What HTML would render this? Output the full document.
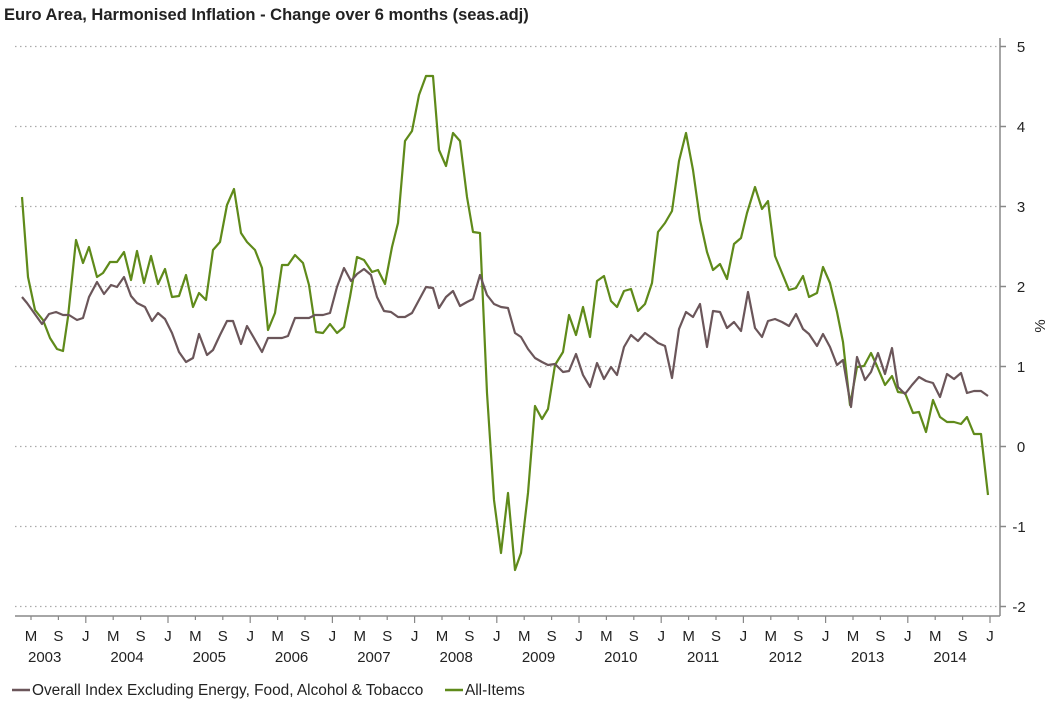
<!DOCTYPE html>
<html><head><meta charset="utf-8"><style>
body{margin:0;background:#fff;}
svg text{font-family:"Liberation Sans",sans-serif;fill:#222;}
</style></head><body>
<svg width="1047" height="716" viewBox="0 0 1047 716" xmlns="http://www.w3.org/2000/svg">
<text x="4" y="20" font-size="16.5" font-weight="bold" fill="#111">Euro Area, Harmonised Inflation - Change over 6 months (seas.adj)</text>
<g stroke="#aaa" stroke-width="1.2" stroke-dasharray="1.5,3.5">
<line x1="15" y1="46.5" x2="1000" y2="46.5"/>
<line x1="15" y1="126.5" x2="1000" y2="126.5"/>
<line x1="15" y1="206.5" x2="1000" y2="206.5"/>
<line x1="15" y1="286.5" x2="1000" y2="286.5"/>
<line x1="15" y1="366.5" x2="1000" y2="366.5"/>
<line x1="15" y1="446.5" x2="1000" y2="446.5"/>
<line x1="15" y1="526.5" x2="1000" y2="526.5"/>
<line x1="15" y1="606.5" x2="1000" y2="606.5"/>
</g>
<g stroke="#888" stroke-width="1.5">
<line x1="1000" y1="38" x2="1000" y2="616"/>
<line x1="15" y1="616" x2="1000" y2="616"/>
<line x1="1000" y1="46.5" x2="1006" y2="46.5"/>
<line x1="1000" y1="126.5" x2="1006" y2="126.5"/>
<line x1="1000" y1="206.5" x2="1006" y2="206.5"/>
<line x1="1000" y1="286.5" x2="1006" y2="286.5"/>
<line x1="1000" y1="366.5" x2="1006" y2="366.5"/>
<line x1="1000" y1="446.5" x2="1006" y2="446.5"/>
<line x1="1000" y1="526.5" x2="1006" y2="526.5"/>
<line x1="1000" y1="606.5" x2="1006" y2="606.5"/>
</g>
<path stroke="#888" stroke-width="1.2" fill="none" d="M31,616v4M58.4,616v4M85.8,616v7M113.2,616v4M140.6,616v4M168,616v7M195.4,616v4M222.8,616v4M250.2,616v7M277.6,616v4M305,616v4M332.4,616v7M359.8,616v4M387.2,616v4M414.6,616v7M442,616v4M469.4,616v4M496.8,616v7M524.2,616v4M551.6,616v4M579,616v7M606.4,616v4M633.8,616v4M661.2,616v7M688.6,616v4M716,616v4M743.4,616v7M770.8,616v4M798.2,616v4M825.6,616v7M853,616v4M880.4,616v4M907.8,616v7M935.2,616v4M962.6,616v4M990,616v7"/>
<g font-size="15" text-anchor="middle">
<text x="1021" y="52">5</text><text x="1021" y="132">4</text><text x="1021" y="212">3</text><text x="1021" y="292">2</text><text x="1021" y="372">1</text><text x="1021" y="452">0</text><text x="1019" y="532">-1</text><text x="1019" y="612">-2</text>
<text transform="translate(1045,326) rotate(-90)">%</text>
<text x="31" y="641">M</text><text x="58.4" y="641">S</text><text x="85.8" y="641">J</text>
<text x="113.2" y="641">M</text><text x="140.6" y="641">S</text><text x="168" y="641">J</text>
<text x="195.4" y="641">M</text><text x="222.8" y="641">S</text><text x="250.2" y="641">J</text>
<text x="277.6" y="641">M</text><text x="305" y="641">S</text><text x="332.4" y="641">J</text>
<text x="359.8" y="641">M</text><text x="387.2" y="641">S</text><text x="414.6" y="641">J</text>
<text x="442" y="641">M</text><text x="469.4" y="641">S</text><text x="496.8" y="641">J</text>
<text x="524.2" y="641">M</text><text x="551.6" y="641">S</text><text x="579" y="641">J</text>
<text x="606.4" y="641">M</text><text x="633.8" y="641">S</text><text x="661.2" y="641">J</text>
<text x="688.6" y="641">M</text><text x="716" y="641">S</text><text x="743.4" y="641">J</text>
<text x="770.8" y="641">M</text><text x="798.2" y="641">S</text><text x="825.6" y="641">J</text>
<text x="853" y="641">M</text><text x="880.4" y="641">S</text><text x="907.8" y="641">J</text>
<text x="935.2" y="641">M</text><text x="962.6" y="641">S</text><text x="990" y="641">J</text>
<text x="44.7" y="662">2003</text><text x="127" y="662">2004</text><text x="209.3" y="662">2005</text><text x="291.6" y="662">2006</text><text x="373.9" y="662">2007</text><text x="456.2" y="662">2008</text><text x="538.5" y="662">2009</text><text x="620.8" y="662">2010</text><text x="703.1" y="662">2011</text><text x="785.4" y="662">2012</text><text x="867.7" y="662">2013</text><text x="950" y="662">2014</text>
</g>
<polyline fill="none" stroke="#5f8a1a" stroke-width="2.2" stroke-linejoin="round" points="22,197 28,277 35,310 43,320 50,338 57,349 63,351 68,317 76,240 83,263 89,247 97,277 103,273 110,262 117,262 124,252 131,280 137,251 144,283 151,256 158,284 165,269 172,297 179,296 186,275 193,307 199,293 206,300 213,250 220,242 227,205 234,189 241,233 247,242 255,250 262,268 268,330 275,313 282,265 288,265 295,255 303,263 309,285 316,332 323,333 330,324 337,333 344,327 350,297 357,257 364,260 372,272 378,270 385,284 392,247 398,223 405,141 412,131 419,95 426,76 433,76 439,150 446,166 453,133 460,141 467,197 473,232 480,233 487,393 494,500 501,553 508,493 515,570 521,553 528,493 535,406 542,419 548,409 555,365 563,352 569,315 576,335 583,307 590,337 597,281 604,276 611,301 617,307 624,291 631,289 638,311 645,304 652,283 658,232 665,223 672,211 679,161 686,133 693,170 700,220 707,252 713,270 720,264 727,279 734,244 741,238 747,213 755,187 762,209 768,201 775,256 782,273 789,290 796,288 803,276 809,297 817,293 823,267 830,283 837,312 843,342 850,405 857,367 864,366 871,353 877,366 885,385 892,376 898,392 905,393 913,413 919,412 926,432 933,400 940,417 947,422 954,422 961,424 967,417 974,434 981,434 988,495"/>
<polyline fill="none" stroke="#6b565a" stroke-width="2.2" stroke-linejoin="round" points="22,297 27,303 42,324 49,314 56,312 63,315 69,315 77,320 83,318 89,297 97,282 104,294 111,285 117,287 124,277 131,296 137,303 145,307 152,321 158,313 165,319 172,333 179,352 186,362 193,358 199,334 207,355 213,350 220,335 227,321 233,321 241,344 247,326 254,338 262,352 268,338 275,338 282,338 288,336 295,318 302,318 309,318 315,315 323,315 330,313 337,287 344,268 351,281 357,274 364,269 371,275 377,297 384,311 391,312 398,317 405,317 412,313 419,300 426,287 433,288 439,308 446,297 453,291 460,306 467,302 473,299 480,275 487,295 494,304 501,307 508,308 515,333 521,337 528,349 535,358 542,362 548,365 555,364 563,372 569,371 576,354 583,375 590,387 597,363 604,379 611,367 617,375 624,347 631,335 638,341 645,333 652,338 658,343 665,346 672,378 679,329 686,312 693,317 700,304 707,347 713,311 720,312 727,328 734,322 741,331 748,292 755,328 762,337 768,321 775,319 782,322 789,326 796,314 803,329 809,334 817,346 823,334 830,347 837,365 843,360 851,407 857,357 865,380 871,372 878,353 885,374 892,348 898,387 905,394 912,385 919,377 926,381 933,383 940,397 947,374 954,379 961,373 967,393 974,391 981,391 988,396"/>
<g font-size="15.4">
<line x1="12" y1="690" x2="30" y2="690" stroke="#6b565a" stroke-width="2.5"/>
<text x="32" y="695">Overall Index Excluding Energy, Food, Alcohol &amp; Tobacco</text>
<line x1="445" y1="690" x2="463" y2="690" stroke="#5f8a1a" stroke-width="2.5"/>
<text x="465" y="695">All-Items</text>
</g>
</svg>
</body></html>
